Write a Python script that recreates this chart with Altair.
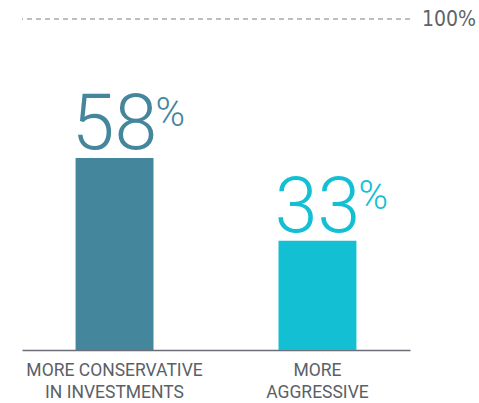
import altair as alt
import pandas as pd

categories = ["MORE CONSERVATIVE|IN INVESTMENTS", "MORE|AGGRESSIVE"]
values = [58, 33]
colors = ["#44869c", "#12bfd3"]
ref_value = [100]
ref_label = ["100%"]

df = pd.DataFrame({"cat": categories, "val": values, "color": colors})
ref = pd.DataFrame({"v": ref_value, "label": ref_label})

x = alt.X("cat:N", sort=categories,
          scale=alt.Scale(paddingInner=0.616, paddingOuter=0.264),
          axis=alt.Axis(title=None, labelExpr="split(datum.label, '|')",
                        labelFont="Roboto", labelFontSize=17.5, labelColor="#5b5f67",
                        labelPadding=11, labelLineHeight=22, ticks=False,
                        domainColor="#6b6e76", domainWidth=1.5, labelAngle=0))
y = alt.Y("val:Q", scale=alt.Scale(domain=[0, 100]), axis=None)

bars = alt.Chart(df).mark_bar().encode(
    x=x, y=y, color=alt.Color("color:N", scale=None))

nums = alt.Chart(df).mark_text(font="Roboto", fontWeight=300, fontSize=77,
                               baseline="alphabetic", align="center", dy=-9).encode(
    x=x, y=y, text=alt.Text("val:Q", format="d"), color=alt.Color("color:N", scale=None))

pct = alt.Chart(df).mark_text(font="Roboto", fontWeight=300, fontSize=40, text="%",
                              baseline="alphabetic", align="left", dx=41, dy=-32).encode(
    x=x, y=y, color=alt.Color("color:N", scale=None))

rule = alt.Chart(ref).mark_rule(color="#7b7e86", strokeDash=[5, 4], strokeWidth=1).encode(
    y=alt.Y("v:Q", scale=alt.Scale(domain=[0, 100]), axis=None))

rlabel = alt.Chart(ref).mark_text(font="DejaVu Sans Condensed", fontSize=21, color="#5f636b",
                                  align="left", baseline="middle", dx=12, dy=1).encode(
    x=alt.value(388), y=alt.Y("v:Q", scale=alt.Scale(domain=[0, 100]), axis=None),
    text="label:N")

chart = alt.layer(bars, nums, pct, rule, rlabel).properties(
    width=388, height=331,
    autosize=alt.AutoSizeParams(type="none"),
    padding={"left": 22, "top": 19, "right": 69, "bottom": 53},
    background="white",
).configure_view(stroke="transparent", strokeWidth=0)

chart.save("out.html", embed_options={"renderer": "svg", "actions": False})
